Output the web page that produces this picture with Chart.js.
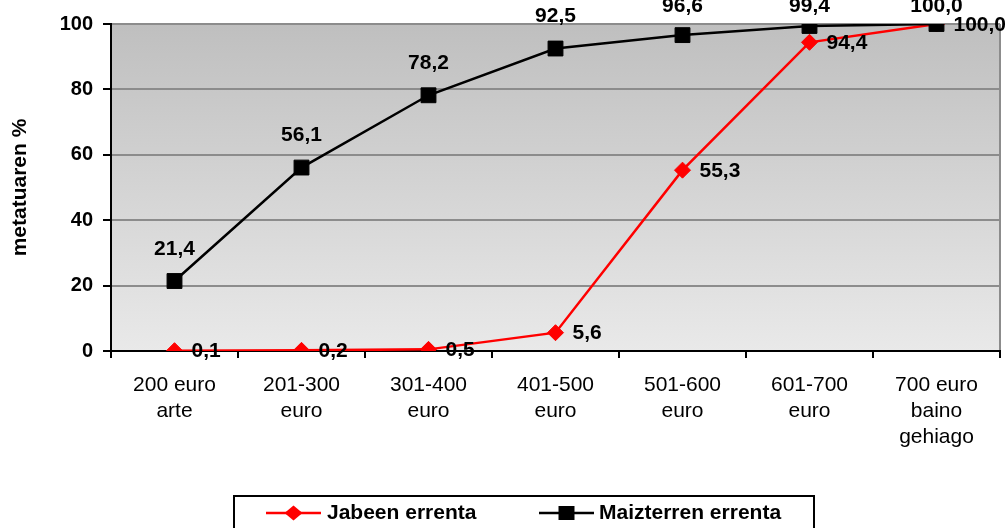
<!DOCTYPE html>
<html>
<head>
<meta charset="utf-8">
<script src="https://cdn.jsdelivr.net/npm/chart.js@4.4.1/dist/chart.umd.min.js"></script>
<style>
  html, body { margin: 0; padding: 0; background: #ffffff; }
  #wrap { width: 1005px; height: 528px; position: relative; }
</style>
</head>
<body>
<div id="wrap"><canvas id="c" width="1005" height="528"></canvas></div>
<script>
// Income brackets (multi-line category labels)
const categories = [
  ["200 euro", "arte"],
  ["201-300", "euro"],
  ["301-400", "euro"],
  ["401-500", "euro"],
  ["501-600", "euro"],
  ["601-700", "euro"],
  ["700 euro", "baino", "gehiago"]
];
// Cumulative percentages
const jabeenValues = [0.1, 0.2, 0.5, 5.6, 55.3, 94.4, 100.0];
const maizterrenValues = [21.4, 56.1, 78.2, 92.5, 96.6, 99.4, 100.0];
const seriesNames = ["Jabeen errenta", "Maizterren errenta"];
const yTickValues = [0, 20, 40, 60, 80, 100];

const FONT = "'Liberation Sans', Arial, Helvetica, sans-serif";

const fmt = v => v.toFixed(1).replace('.', ',');

// Gradient plot background and right-hand frame line
const plotBackground = {
  id: 'plotBackground',
  beforeDraw(chart) {
    const { ctx, chartArea: a } = chart;
    const g = ctx.createLinearGradient(0, a.top, 0, a.bottom);
    g.addColorStop(0, '#bfbfbf');
    g.addColorStop(1, '#e9e9e9');
    ctx.save();
    ctx.fillStyle = g;
    ctx.fillRect(a.left, a.top, a.right - a.left, a.bottom - a.top);
    ctx.strokeStyle = '#8c8c8c';
    ctx.lineWidth = 2;
    ctx.beginPath();
    ctx.moveTo(a.right, a.top);
    ctx.lineTo(a.right, a.bottom);
    ctx.stroke();
    ctx.restore();
  }
};

// Value labels: above the squares, right of the diamonds
const valueLabels = {
  id: 'valueLabels',
  afterDatasetsDraw(chart) {
    const { ctx } = chart;
    ctx.save();
    ctx.font = 'bold 21px ' + FONT;
    ctx.fillStyle = '#000';
    ctx.textBaseline = 'middle';
    chart.data.datasets.forEach((ds, i) => {
      const meta = chart.getDatasetMeta(i);
      meta.data.forEach((pt, j) => {
        const text = fmt(ds.data[j]);
        if (ds.labelSide === 'above') {
          ctx.textAlign = 'center';
          ctx.fillText(text, pt.x, Math.max(pt.y - 32, 6));
        } else {
          ctx.textAlign = 'left';
          ctx.fillText(text, pt.x + 17, pt.y + 1);
        }
      });
    });
    ctx.restore();
  }
};

// Boxed legend below the axis
const boxLegend = {
  id: 'boxLegend',
  afterDraw(chart) {
    const { ctx } = chart;
    const ds = chart.data.datasets;
    ctx.save();
    ctx.strokeStyle = '#000';
    ctx.lineWidth = 2;
    ctx.strokeRect(234, 496, 580, 45);
    const cy = 513;
    const items = [
      { ds: ds[0], x0: 266, x1: 321, tx: 327 },
      { ds: ds[1], x0: 539, x1: 594, tx: 599 }
    ];
    items.forEach(it => {
      const mx = (it.x0 + it.x1) / 2;
      ctx.strokeStyle = it.ds.borderColor;
      ctx.lineWidth = 2.5;
      ctx.beginPath();
      ctx.moveTo(it.x0, cy);
      ctx.lineTo(it.x1, cy);
      ctx.stroke();
      ctx.fillStyle = it.ds.pointBackgroundColor;
      ctx.beginPath();
      if (it.ds.pointStyle === 'rectRot') {
        const rx = 9, ry = 7.5;
        ctx.moveTo(mx - rx, cy); ctx.lineTo(mx, cy - ry);
        ctx.lineTo(mx + rx, cy); ctx.lineTo(mx, cy + ry);
      } else {
        ctx.rect(mx - 8, cy - 7, 16, 14);
      }
      ctx.closePath();
      ctx.fill();
      ctx.fillStyle = '#000';
      ctx.font = 'bold 21px ' + FONT;
      ctx.textAlign = 'left';
      ctx.textBaseline = 'middle';
      ctx.fillText(it.ds.label, it.tx, cy);
    });
    ctx.restore();
  }
};

new Chart(document.getElementById('c'), {
  type: 'line',
  data: {
    labels: categories,
    datasets: [
      {
        label: seriesNames[0],
        data: jabeenValues,
        borderColor: '#ff0000',
        backgroundColor: '#ff0000',
        pointBackgroundColor: '#ff0000',
        pointBorderColor: '#ff0000',
        borderWidth: 2.5,
        pointStyle: 'rectRot',
        pointRadius: 8,
        pointBorderWidth: 1,
        tension: 0,
        order: 1,
        labelSide: 'right'
      },
      {
        label: seriesNames[1],
        data: maizterrenValues,
        borderColor: '#000000',
        backgroundColor: '#000000',
        pointBackgroundColor: '#000000',
        pointBorderColor: '#000000',
        borderWidth: 2.5,
        pointStyle: 'rect',
        pointRadius: 10.5,
        pointBorderWidth: 1,
        tension: 0,
        order: 0,
        labelSide: 'above'
      }
    ]
  },
  options: {
    responsive: false,
    animation: false,
    devicePixelRatio: 1,
    layout: { autoPadding: false, padding: { left: 0, top: 24, right: 5, bottom: 0 } },
    plugins: {
      legend: { display: false },
      tooltip: { enabled: false }
    },
    scales: {
      x: {
        type: 'category',
        offset: true,
        grid: {
          offset: true,
          drawOnChartArea: false,
          tickLength: 7,
          color: '#000',
          lineWidth: 2
        },
        border: { color: '#000', width: 2 },
        ticks: {
          color: '#000',
          font: { family: FONT, size: 21, lineHeight: 1.25 },
          padding: 14,
          maxRotation: 0,
          autoSkip: false
        },
        afterFit(scale) {
          scale.height = 177;
          scale.paddingLeft = 0;
          scale.paddingRight = 0;
        }
      },
      y: {
        min: 0,
        max: 100,
        afterBuildTicks(scale) {
          scale.ticks = yTickValues.map(v => ({ value: v }));
        },
        grid: {
          color: '#8c8c8c',
          lineWidth: 2,
          tickColor: '#000',
          tickLength: 8
        },
        border: { color: '#000', width: 2 },
        ticks: {
          color: '#000',
          font: { family: FONT, size: 20, weight: 'bold' },
          padding: 10
        },
        title: {
          display: true,
          text: 'metatuaren %',
          color: '#000',
          font: { family: FONT, size: 21, weight: 'bold' },
          padding: { top: 8, bottom: 0 }
        },
        afterFit(scale) { scale.width = 111; }
      }
    }
  },
  plugins: [plotBackground, valueLabels, boxLegend]
});
</script>
</body>
</html>
